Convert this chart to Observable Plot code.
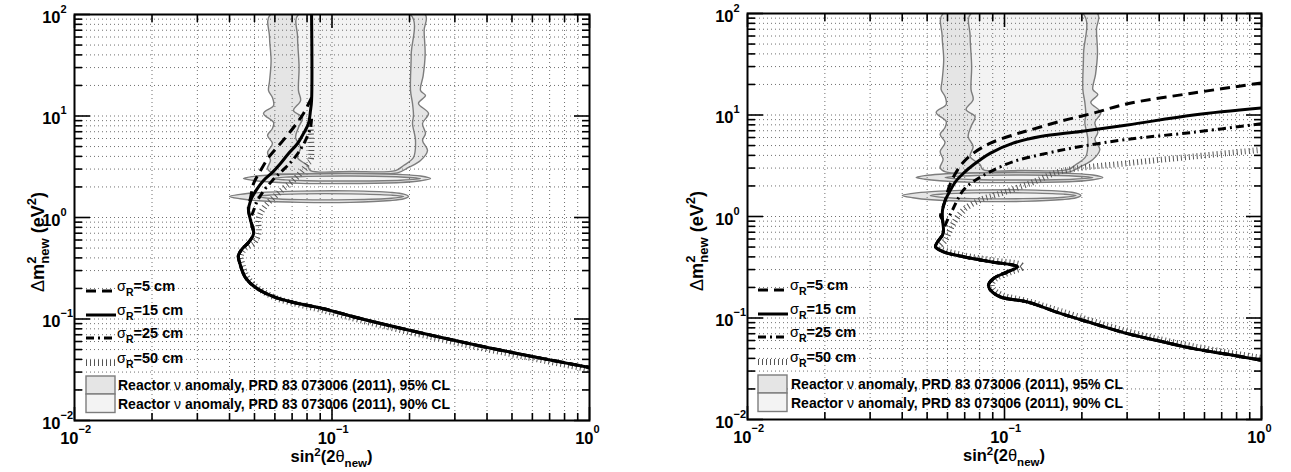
<!DOCTYPE html>
<html><head><meta charset="utf-8">
<script src="https://cdn.jsdelivr.net/npm/d3@7"></script>
<script src="https://cdn.jsdelivr.net/npm/@observablehq/plot@0.6"></script>
<style>
html,body{margin:0;padding:0;background:#fff;}
#wrap{display:flex;width:1291px;height:472px;overflow:hidden;}
#wrap svg{display:block;}
</style></head><body><div id="wrap"></div>
<script>
// ---------- tick labels ----------
const xTickValues = [0.01, 0.1, 1];
const xTickExps = ["\u22122", "\u22121", "0"];
const yTickValues = [0.01, 0.1, 1, 10, 100];
const yTickExps = ["\u22122", "\u22121", "0", "1", "2"];
const minorMult = [2, 3, 4, 5, 6, 7, 8, 9];

// ---------- legend labels ----------
const seriesR = ["5 cm", "15 cm", "25 cm", "50 cm"];
const regionLabels = ["Reactor \u03bd anomaly, PRD 83 073006 (2011), 95% CL",
                      "Reactor \u03bd anomaly, PRD 83 073006 (2011), 90% CL"];

// ---------- reactor anomaly regions [sin2(2theta), dm2] ----------
const raa95Band = [[0.0577,100],[0.0572,60],[0.0580,35],[0.0572,22],[0.0567,17.8],[0.0587,15.2],[0.0593,12.7],[0.0542,10.6],[0.0593,8.63],[0.0587,7.53],[0.0562,6.43],[0.0587,5.36],[0.0562,4.37],[0.0577,3.64],[0.0562,3.04],[0.0590,2.75],[0.090,2.72],[0.140,2.72],[0.1796,2.75],[0.1982,3.11],[0.2207,3.64],[0.2349,4.57],[0.2247,5.74],[0.2307,6.72],[0.2247,8.44],[0.2370,10.6],[0.2167,13.3],[0.2307,15.9],[0.2207,17.8],[0.2260,25],[0.2300,40],[0.2280,70],[0.2300,100]];
const raa95Upper = [[0.0453,2.42],[0.0490,2.53],[0.0560,2.61],[0.0755,2.68],[0.118,2.71],[0.1845,2.65],[0.2207,2.56],[0.2413,2.42],[0.2207,2.30],[0.1845,2.21],[0.118,2.16],[0.0755,2.17],[0.0560,2.25],[0.0490,2.33]];
const raa95Lower = [[0.0400,1.61],[0.0440,1.69],[0.0520,1.76],[0.0755,1.82],[0.118,1.83],[0.1687,1.77],[0.1900,1.70],[0.1982,1.61],[0.1900,1.53],[0.1687,1.47],[0.118,1.41],[0.0755,1.41],[0.0520,1.46],[0.0440,1.53]];
const raa90Band = [[0.0741,100],[0.0735,60],[0.0745,30],[0.0741,17.8],[0.0755,14.2],[0.0709,11.3],[0.0768,9.67],[0.0741,7.70],[0.0722,6.14],[0.0755,4.89],[0.0735,3.90],[0.0803,3.25],[0.0825,2.90],[0.120,2.85],[0.1764,2.90],[0.1896,3.25],[0.2072,3.90],[0.2110,5.74],[0.2054,8.44],[0.2072,10.1],[0.2054,13.3],[0.2018,17.8],[0.2030,40],[0.2018,100]];
const raa90Upper = [[0.0587,2.42],[0.0660,2.50],[0.0800,2.54],[0.118,2.56],[0.1845,2.51],[0.2207,2.42],[0.1845,2.33],[0.118,2.29],[0.0800,2.30],[0.0660,2.35]];
const raa90Lower = [[0.0514,1.61],[0.0580,1.67],[0.0755,1.71],[0.118,1.71],[0.170,1.66],[0.1900,1.61],[0.170,1.55],[0.118,1.50],[0.0755,1.50],[0.0580,1.54]];

// ---------- left panel sensitivity curves ----------
const left15 = [[0.0833,100],[0.0833,14.2],[0.0825,11.3],[0.0810,8.44],[0.0775,6.72],[0.0735,5.36],[0.0678,4.27],[0.0631,3.40],[0.0587,2.78],[0.0542,2.32],[0.0505,1.82],[0.0483,1.47],[0.0474,1.17],[0.0483,0.934],[0.0496,0.696],[0.0474,0.567],[0.0449,0.495],[0.0433,0.422],[0.0441,0.337],[0.0461,0.256],[0.0505,0.204],[0.0603,0.163],[0.0741,0.142],[0.0918,0.127],[0.129,0.101],[0.2018,0.077],[0.4017,0.0524],[1.0,0.0333]];
const left5 = [[0.0833,15.2],[0.0775,10.6],[0.0709,7.70],[0.0631,5.36],[0.0567,3.90],[0.0528,2.90],[0.0496,2.16],[0.0483,1.57],[0.0474,1.31],[0.0474,1.17],[0.0483,0.934],[0.0496,0.696],[0.0474,0.567],[0.0449,0.495],[0.0433,0.422],[0.0441,0.337],[0.0461,0.256],[0.0505,0.204],[0.0603,0.163],[0.0741,0.142],[0.0918,0.127],[0.129,0.101],[0.2018,0.077],[0.4017,0.0524],[1.0,0.0333]];
const left25 = [[0.0833,9.4],[0.0825,7.70],[0.0789,5.74],[0.0741,4.37],[0.0690,3.48],[0.0631,2.78],[0.0587,2.32],[0.0542,1.82],[0.0514,1.47],[0.0496,1.17],[0.0483,0.934],[0.0496,0.696],[0.0474,0.567],[0.0449,0.495],[0.0433,0.422],[0.0441,0.337],[0.0461,0.256],[0.0505,0.204],[0.0603,0.163],[0.0741,0.142],[0.0918,0.127],[0.129,0.101],[0.2018,0.077],[0.4017,0.0524],[1.0,0.0333]];
const left50 = [[0.0825,8.0],[0.0825,3.64],[0.0810,3.48],[0.0768,2.90],[0.0709,2.32],[0.0648,1.93],[0.0593,1.57],[0.0552,1.31],[0.0528,1.10],[0.0518,0.934],[0.0518,0.696],[0.0500,0.570],[0.0460,0.495],[0.0443,0.422],[0.0450,0.337],[0.0470,0.256],[0.0515,0.202],[0.0610,0.160],[0.0750,0.138],[0.0920,0.122],[0.129,0.097],[0.202,0.0738],[0.402,0.0502],[1.0,0.0319]];

// ---------- right panel sensitivity curves ----------
const right15 = [[1.0,11.71],[0.544,10.0],[0.301,7.97],[0.198,6.88],[0.138,6.14],[0.108,5.28],[0.0882,4.21],[0.0757,3.23],[0.0693,2.67],[0.0645,2.21],[0.0617,1.83],[0.0589,1.46],[0.0574,1.16],[0.0574,0.924],[0.0579,0.736],[0.0574,0.657],[0.0549,0.564],[0.0539,0.503],[0.0579,0.449],[0.0693,0.401],[0.0882,0.358],[0.1123,0.319],[0.1027,0.285],[0.0906,0.245],[0.0866,0.211],[0.0882,0.188],[0.0965,0.161],[0.1229,0.144],[0.165,0.111],[0.222,0.0881],[0.301,0.0702],[0.405,0.0589],[0.544,0.0499],[0.737,0.0439],[1.0,0.0383]];
const right5 = [[1.0,20.69],[0.5437,16.48],[0.3011,12.92],[0.222,10.45],[0.1652,8.68],[0.1229,6.99],[0.1084,6.38],[0.0882,5.28],[0.0757,4.21],[0.0686,3.35],[0.0645,2.67],[0.0617,2.13],[0.0598,1.70],[0.0589,1.46],[0.0572,1.16],[0.0564,1.01],[0.0574,0.924],[0.0579,0.736],[0.0574,0.657],[0.0549,0.564],[0.0539,0.503],[0.0579,0.449],[0.0693,0.401],[0.0882,0.358],[0.1123,0.319],[0.1027,0.285],[0.0906,0.245],[0.0866,0.211],[0.0882,0.188],[0.0965,0.161],[0.1229,0.144],[0.165,0.111],[0.222,0.0881],[0.301,0.0702],[0.405,0.0589],[0.544,0.0499],[0.737,0.0439],[1.0,0.0383]];
const right25 = [[1.0,8.20],[0.5437,6.75],[0.3011,5.76],[0.1976,4.89],[0.147,4.21],[0.1084,3.48],[0.0882,2.77],[0.0757,2.21],[0.0693,1.83],[0.0656,1.46],[0.0628,1.16],[0.0600,0.924],[0.0579,0.736],[0.0574,0.657],[0.0549,0.564],[0.0539,0.503],[0.0579,0.449],[0.0693,0.401],[0.0882,0.358],[0.1123,0.319],[0.1027,0.285],[0.0906,0.245],[0.0866,0.211],[0.0882,0.188],[0.0965,0.161],[0.1229,0.144],[0.165,0.111],[0.222,0.0881],[0.301,0.0702],[0.405,0.0589],[0.544,0.0499],[0.737,0.0439],[1.0,0.0383]];
const right50 = [[1.0,4.54],[0.5437,3.90],[0.3011,3.35],[0.1652,2.78],[0.1263,2.13],[0.0939,1.65],[0.0807,1.46],[0.0693,1.16],[0.0633,0.857],[0.0606,0.682],[0.0589,0.586],[0.0558,0.494],[0.0595,0.456],[0.0705,0.412],[0.0882,0.372],[0.1154,0.336],[0.1175,0.317],[0.1055,0.283],[0.0931,0.247],[0.0893,0.215],[0.0906,0.192],[0.0982,0.168],[0.124,0.146],[0.1652,0.117],[0.3011,0.074],[0.5437,0.0526],[1.0,0.0405]];

// ---------- styles ----------
const FONT = "'Liberation Sans', Arial, Helvetica, sans-serif";
const fill95 = "#e5e5e5", fill90 = "#f3f3f3", edge = "#7d7d7d";
const lineStyles = [
  {stroke: "#000", strokeWidth: 3, strokeDasharray: "10,6"},
  {stroke: "#000", strokeWidth: 3},
  {stroke: "#000", strokeWidth: 3, strokeDasharray: "8,4,2,4"},
  {stroke: "#555", strokeWidth: 6, strokeDasharray: "1,3"}
];

const decades = [0.01, 0.1, 1, 10];
const xMinor = [0.01, 0.1].flatMap(d => minorMult.map(k => +(k * d).toPrecision(3)));
const yMinor = decades.flatMap(d => minorMult.map(k => +(k * d).toPrecision(3)));
const xGrid = xMinor.concat([0.1]);
const yGrid = yMinor.concat([0.1, 1, 10]);

const panels = [
  {curves: [left5, left15, left25, left50], width: 645, ml: 74, mr: 56, mt: 14, mb: 52, yTitleX: 44, sampleX: 12},
  {curves: [right5, right15, right25, right50], width: 646, ml: 102, mr: 30, mt: 13, mb: 53, yTitleX: 58, sampleX: 11}
];

const P = d => d[0], Q = d => d[1];
const wrap = document.getElementById("wrap");

for (const p of panels) {
  const region = (data, fill) => Plot.line(data, {x: P, y: Q, curve: "catmull-rom-closed", fill, stroke: edge, strokeWidth: 1.4, clip: true});
  const order = [3, 2, 0, 1];
  const svg = Plot.plot({
    width: p.width, height: 472,
    marginLeft: p.ml, marginRight: p.mr, marginTop: p.mt, marginBottom: p.mb,
    style: {fontFamily: FONT, background: "#fff", color: "#000"},
    x: {type: "log", domain: [0.01, 1], axis: null},
    y: {type: "log", domain: [0.01, 100], axis: null},
    marks: [
      region(raa95Band, fill95),
      region(raa95Upper, fill95),
      region(raa95Lower, fill95),
      region(raa90Band, fill90),
      region(raa90Upper, fill90),
      region(raa90Lower, fill90),
      Plot.ruleX(xGrid, {stroke: "#707070", strokeWidth: 1, strokeDasharray: "1,3"}),
      Plot.ruleY(yGrid, {stroke: "#707070", strokeWidth: 1, strokeDasharray: "1,3"}),
      ...order.map(i => Plot.line(p.curves[i], {x: P, y: Q, curve: "catmull-rom", clip: true, strokeLinecap: "butt", strokeLinejoin: "round", ...lineStyles[i]})),
      Plot.frame({stroke: "#000", strokeWidth: 2}),
      Plot.axisX(xTickValues, {anchor: "bottom", tickSize: -13, fill: "none", strokeWidth: 1.6, label: null}),
      Plot.axisX(xMinor, {anchor: "bottom", tickSize: -7, fill: "none", strokeWidth: 1.6, label: null}),
      Plot.axisX(xTickValues, {anchor: "top", tickSize: -13, fill: "none", strokeWidth: 1.6, label: null}),
      Plot.axisX(xMinor, {anchor: "top", tickSize: -7, fill: "none", strokeWidth: 1.6, label: null}),
      Plot.axisY(yTickValues, {anchor: "left", tickSize: -16, fill: "none", strokeWidth: 1.6, label: null}),
      Plot.axisY(yMinor, {anchor: "left", tickSize: -8, fill: "none", strokeWidth: 1.6, label: null}),
      Plot.axisY(yTickValues, {anchor: "right", tickSize: -16, fill: "none", strokeWidth: 1.6, label: null}),
      Plot.axisY(yMinor, {anchor: "right", tickSize: -8, fill: "none", strokeWidth: 1.6, label: null}),
      // x tick labels
      Plot.text(xTickValues, {x: d => d, text: () => "10", frameAnchor: "bottom", dy: 23, dx: 4, textAnchor: "end", lineAnchor: "bottom", fontSize: 16.5, fontWeight: "bold", fill: "#000"}),
      Plot.text(xTickValues, {x: d => d, text: (d, i) => xTickExps[i], frameAnchor: "bottom", dy: 12, dx: 4, textAnchor: "start", lineAnchor: "bottom", fontSize: 11, fontWeight: "bold", fill: "#000"}),
      // y tick labels
      Plot.text(yTickValues, {y: d => d, text: () => "10", frameAnchor: "left", dx: -14, dy: 8, textAnchor: "end", lineAnchor: "bottom", fontSize: 16.5, fontWeight: "bold", fill: "#000"}),
      Plot.text(yTickValues, {y: d => d, text: (d, i) => yTickExps[i], frameAnchor: "left", dx: -14, dy: -2, textAnchor: "start", lineAnchor: "bottom", fontSize: 11, fontWeight: "bold", fill: "#000"})
    ]
  });
  wrap.appendChild(svg);

  // ----- titles & legend (non-data decorations) -----
  const s = d3.select(svg);
  const fx0 = p.ml, fx1 = p.width - p.mr, fy0 = p.mt, fy1 = 472 - p.mb;
  const g = s.append("g").attr("font-family", FONT).attr("font-weight", "bold").attr("fill", "#000").attr("text-anchor", "start");

  // x title
  const xt = g.append("text").attr("x", (fx0 + fx1) / 2).attr("y", fy1 + 42).attr("text-anchor", "middle").attr("font-size", 16.5);
  xt.append("tspan").text("sin");
  xt.append("tspan").attr("font-size", 11.5).attr("dy", -6).text("2");
  xt.append("tspan").attr("dy", 6).text("(2");
  xt.append("tspan").attr("font-weight", "normal").text("\u03b8");
  xt.append("tspan").attr("font-size", 11.5).attr("dy", 5).text("new");
  xt.append("tspan").attr("dy", -5).text(")");

  // y title
  const yt = g.append("text").attr("transform", `translate(${p.yTitleX},${fy0 + 228}) rotate(-90)`).attr("text-anchor", "middle").attr("font-size", 18);
  yt.append("tspan").attr("font-weight", "normal").text("\u0394");
  yt.append("tspan").text("m");
  yt.append("tspan").attr("font-size", 13).attr("dy", -8).text("2");
  yt.append("tspan").attr("font-size", 13).attr("dx", -7).attr("dy", 13).text("new");
  yt.append("tspan").attr("dy", -5).text(" (eV");
  yt.append("tspan").attr("font-size", 13).attr("dy", -8).text("2");
  yt.append("tspan").attr("dy", 8).text(")");

  // legend: curves
  const rowsY = [fy1 - 129, fy1 - 105, fy1 - 82, fy1 - 57];
  const lx0 = fx0 + p.sampleX, lx1 = fx0 + p.sampleX + 30, tx = fx0 + 43;
  seriesR.forEach((lab, i) => {
    const st = lineStyles[i];
    g.append("line").attr("x1", lx0).attr("x2", lx1).attr("y1", rowsY[i]).attr("y2", rowsY[i])
      .attr("stroke", st.stroke).attr("stroke-width", st.strokeWidth).attr("stroke-linecap", "butt")
      .attr("stroke-dasharray", st.strokeDasharray || null);
    const t = g.append("text").attr("x", tx).attr("y", rowsY[i]).attr("font-size", 14.5);
    t.append("tspan").attr("font-weight", "normal").text("\u03c3");
    t.append("tspan").attr("font-size", 10.5).attr("dy", 5).text("R");
    t.append("tspan").attr("dy", -5).text("=" + lab);
  });
  // legend: regions
  const boxes = [[fy1 - 44, fy1 - 26, fill95], [fy1 - 26, fy1 - 7.5, fill90]];
  boxes.forEach(([y0, y1, f], i) => {
    g.append("rect").attr("x", lx0).attr("y", y0).attr("width", 29).attr("height", y1 - y0)
      .attr("fill", f).attr("stroke", edge).attr("stroke-width", 1.4);
    const t = g.append("text").attr("x", tx + 1).attr("y", y1 - 4).attr("font-size", 14);
    const parts = regionLabels[i].split("\u03bd");
    t.append("tspan").text(parts[0]);
    t.append("tspan").attr("font-weight", "normal").text("\u03bd");
    t.append("tspan").text(parts[1]);
  });
}
</script>
</body></html>
